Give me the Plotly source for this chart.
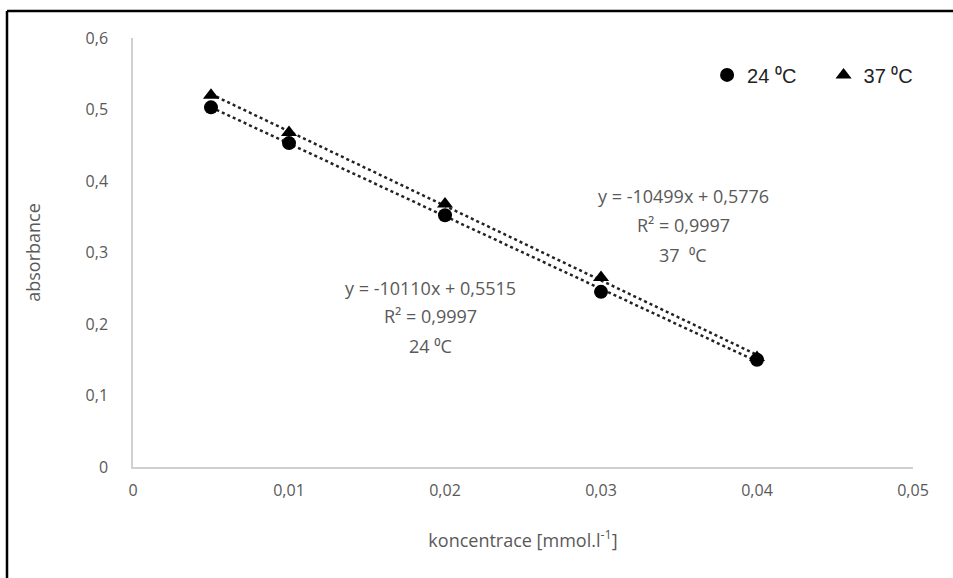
import numpy as np
import plotly.graph_objects as go

conc = [0.005, 0.01, 0.02, 0.03, 0.04]
abs_24 = [0.503, 0.453, 0.352, 0.245, 0.150]
abs_37 = [0.520, 0.468, 0.368, 0.265, 0.153]
series_names = ["24 \u2070C", "37 \u2070C"]
eq_24 = ["y = -10110x + 0,5515", "R\u00b2 = 0,9997", "24 \u2070C"]
eq_37 = ["y = -10499x + 0,5776", "R\u00b2 = 0,9997", "37  \u2070C"]
x_ticks = [0, 0.01, 0.02, 0.03, 0.04, 0.05]
y_ticks = [0, 0.1, 0.2, 0.3, 0.4, 0.5, 0.6]

grey = "#595959"
fig = go.Figure()

for ys in (abs_37, abs_24):
    k, q = np.polyfit(conc, ys, 1)
    xs = [min(conc), max(conc)]
    fig.add_trace(go.Scatter(x=xs, y=[k * v + q for v in xs], mode="lines",
                             line=dict(color="#222222", width=2.5, dash="dot"),
                             showlegend=False, hoverinfo="skip"))

fig.add_trace(go.Scatter(x=conc, y=abs_24, mode="markers",
                         name=series_names[0] + "\u00a0\u00a0\u00a0\u00a0",
                         marker=dict(symbol="circle", size=14, color="black")))
fig.add_trace(go.Scatter(x=conc, y=abs_37, mode="markers", name=series_names[1],
                         marker=dict(symbol="triangle-up", size=14, color="black")))

ann_font = dict(family="Open Sans", size=18, color=grey)
for txt, yy in zip(eq_37, [0.379, 0.3385, 0.2965]):
    fig.add_annotation(x=0.03526, y=yy, xref="x", yref="y", text=txt,
                       showarrow=False, font=ann_font)
for txt, yy in zip(eq_24, [0.2503, 0.2112, 0.1692]):
    fig.add_annotation(x=0.01904, y=yy, xref="x", yref="y", text=txt,
                       showarrow=False, font=ann_font)

# outer frame (top and left edges)
L, R, T, B = 133, 40, 38, 111
W, H = 953, 578
pw, ph = W - L - R, H - T - B
fx = (7 - L) / pw
fy = 1 + (T - 11) / ph
fig.add_shape(type="line", xref="paper", yref="paper", x0=fx, x1=fx, y0=fy, y1=-0.5,
              line=dict(color="black", width=2.5))
fig.add_shape(type="line", xref="paper", yref="paper", x0=fx, x1=1.2, y0=fy, y1=fy,
              line=dict(color="black", width=2.5))

fig.update_layout(
    width=W, height=H,
    margin=dict(l=L, r=R, t=T, b=B),
    paper_bgcolor="white", plot_bgcolor="white",
    separators=", ",
    font=dict(family="Open Sans", size=16, color=grey),
    legend=dict(orientation="h", x=0.736, y=0.914, xanchor="left", yanchor="middle",
                font=dict(family="Liberation Sans", size=20, color="#222222"),
                bgcolor="rgba(0,0,0,0)", itemwidth=30, tracegroupgap=0),
    xaxis=dict(range=[0, 0.05], tickvals=x_ticks, showgrid=False, zeroline=False,
               showline=True, linecolor="#d0d0d0", linewidth=1.5,
               ticks="outside", ticklen=8, tickcolor="rgba(0,0,0,0)",
               tickfont=dict(size=16, color=grey),
               title=dict(text="koncentrace [mmol.l<sup>-1</sup>]", standoff=34,
                          font=dict(size=18, color=grey))),
    yaxis=dict(range=[0, 0.6], tickvals=y_ticks, showgrid=False, zeroline=False,
               showline=True, linecolor="#d0d0d0", linewidth=1.5,
               ticks="outside", ticklen=20, tickcolor="rgba(0,0,0,0)",
               tickfont=dict(size=16, color=grey),
               title=dict(text="absorbance", standoff=40,
                          font=dict(size=18, color=grey))),
)

fig.write_html("out.html")
